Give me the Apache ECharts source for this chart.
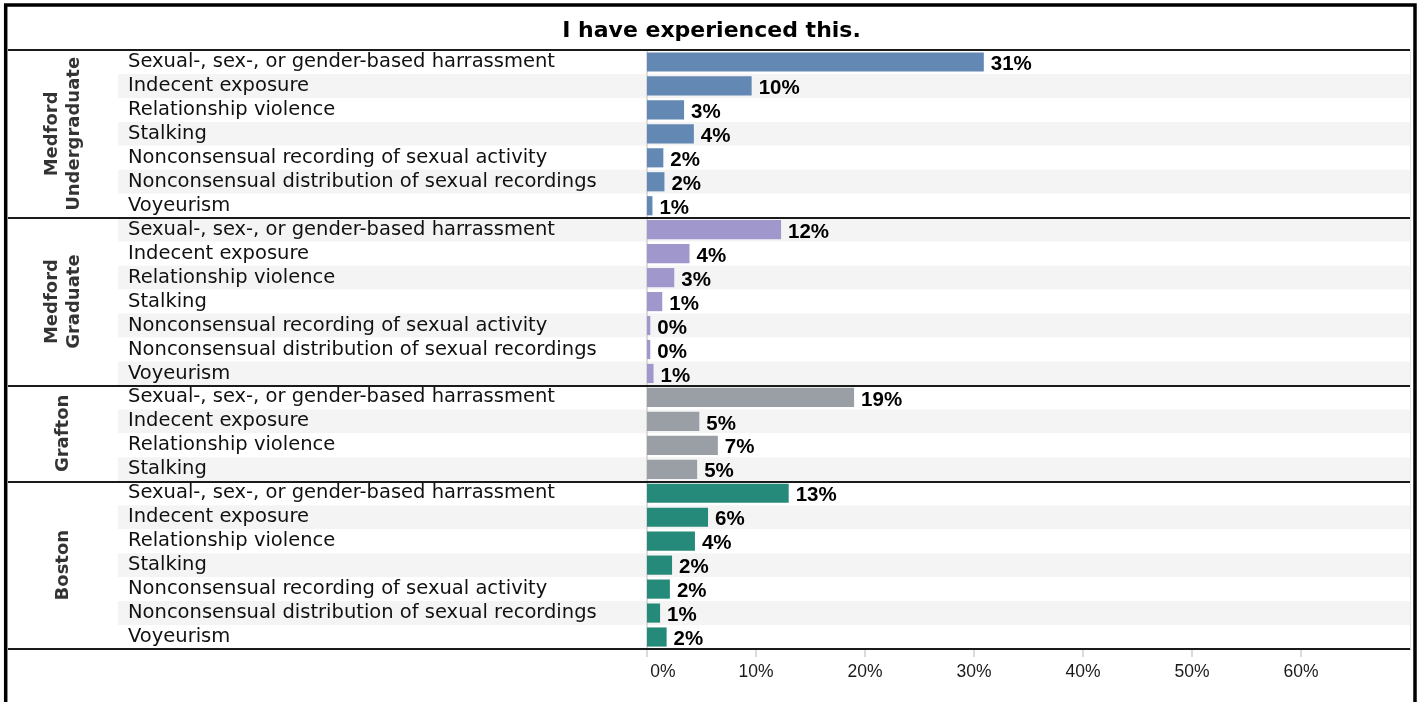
<!DOCTYPE html>
<html><head><meta charset="utf-8">
<script src="https://cdn.jsdelivr.net/npm/echarts@6/dist/echarts.min.js"></script>
<style>html,body{margin:0;padding:0;background:#fff}#chart{width:1423px;height:702px}</style>
</head><body><div id="chart"></div>
<script>
const chartTitle = 'I have experienced this.';
const groupNames = ['Medford\nUndergraduate', 'Medford\nGraduate', 'Grafton', 'Boston'];
const groupColors = ['#6388b4', '#a097cc', '#9a9ea5', '#268a7b'];

const medfordUgCategories = [
  'Sexual-, sex-, or gender-based harrassment', 'Indecent exposure', 'Relationship violence', 'Stalking',
  'Nonconsensual recording of sexual activity', 'Nonconsensual distribution of sexual recordings', 'Voyeurism'];
const medfordUgValues = [30.9, 9.6, 3.4, 4.3, 1.5, 1.6, 0.5];

const medfordGradCategories = [
  'Sexual-, sex-, or gender-based harrassment', 'Indecent exposure', 'Relationship violence', 'Stalking',
  'Nonconsensual recording of sexual activity', 'Nonconsensual distribution of sexual recordings', 'Voyeurism'];
const medfordGradValues = [12.3, 3.9, 2.5, 1.4, 0.3, 0.3, 0.6];

const graftonCategories = ['Sexual-, sex-, or gender-based harrassment', 'Indecent exposure', 'Relationship violence', 'Stalking'];
const graftonValues = [19.0, 4.8, 6.5, 4.6];

const bostonCategories = [
  'Sexual-, sex-, or gender-based harrassment', 'Indecent exposure', 'Relationship violence', 'Stalking',
  'Nonconsensual recording of sexual activity', 'Nonconsensual distribution of sexual recordings', 'Voyeurism'];
const bostonValues = [13.0, 5.6, 4.4, 2.3, 2.1, 1.2, 1.8];

const xTickValues = [0, 10, 20, 30, 40, 50, 60];
const xMax = 70;

const FONT = '"DejaVu Sans", sans-serif';
const LFONT = '"Liberation Sans", Arial, sans-serif';
const groups = [
  {cats: medfordUgCategories, vals: medfordUgValues},
  {cats: medfordGradCategories, vals: medfordGradValues},
  {cats: graftonCategories, vals: graftonValues},
  {cats: bostonCategories, vals: bostonValues}
];
const rowKeys = [], rowNames = [], barData = [], groupStarts = [], groupCenters = [];
let idx = 0;
groups.forEach((g, gi) => {
  groupStarts.push(idx);
  groupCenters.push([0.5, idx + g.cats.length / 2]);
  g.cats.forEach((c, i) => {
    rowKeys.push(gi + '|' + c);
    rowNames.push(c);
    barData.push({value: g.vals[i], itemStyle: {color: groupColors[gi]}});
    idx++;
  });
});

const TOP = 50, BOTTOM = 53, RIGHT = 13;
const chart = echarts.init(document.getElementById('chart'));
chart.setOption({
  animation: false,
  backgroundColor: '#ffffff',
  title: {text: chartTitle, left: 'center', top: 15,
    textStyle: {fontFamily: FONT, fontSize: 22, fontWeight: 'bold', color: '#000'}},
  grid: [
    {left: 8, right: RIGHT, top: TOP, bottom: BOTTOM},
    {left: 118, right: RIGHT, top: TOP, bottom: BOTTOM},
    {left: 647, right: RIGHT, top: TOP, bottom: BOTTOM},
    {left: 8, width: 110, top: TOP, bottom: BOTTOM}
  ],
  xAxis: [
    {gridIndex: 0, type: 'value', show: false, min: 0, max: 1},
    {gridIndex: 1, type: 'value', show: false, min: 0, max: 1},
    {gridIndex: 2, type: 'value', min: 0, max: xMax, interval: 10,
      axisLine: {show: true, lineStyle: {color: '#222', width: 1}},
      axisTick: {show: true, length: 8, customValues: xTickValues, lineStyle: {color: '#cfcfcf', width: 1.5}},
      axisLabel: {show: true, customValues: xTickValues, margin: 14, fontFamily: LFONT, fontSize: 17.5, color: '#1a1a1a',
        formatter: v => v === 0 ? '{first|0%}' : v + '%',
        rich: {first: {fontFamily: LFONT, fontSize: 17.5, color: '#1a1a1a', padding: [0, 0, 0, 32]}}},
      splitLine: {show: false}},
    {gridIndex: 3, type: 'value', show: false, min: 0, max: 1}
  ],
  yAxis: [
    {gridIndex: 0, type: 'category', data: rowKeys, inverse: true, z: 5,
      axisLine: {show: false}, axisTick: {show: false}, axisLabel: {show: false},
      splitLine: {show: true, interval: (i) => groupStarts.includes(i), lineStyle: {color: '#1a1a1a', width: 2}}},
    {gridIndex: 1, type: 'category', data: rowKeys, inverse: true,
      axisLine: {show: false}, axisTick: {show: false},
      axisLabel: {show: true, inside: true, margin: 10, interval: 0, fontFamily: FONT, fontSize: 19.5, color: '#111',
        padding: [0, 0, 2, 0], formatter: (v, i) => rowNames[i]},
      splitLine: {show: false},
      splitArea: {show: true, interval: 0, areaStyle: {color: ['#ffffff', '#f4f4f4']}}},
    {gridIndex: 2, type: 'category', data: rowKeys, inverse: true,
      axisLine: {show: true, lineStyle: {color: '#d0d0d0', width: 1.5}}, axisTick: {show: false}, axisLabel: {show: false}},
    {gridIndex: 2, type: 'category', data: rowKeys, inverse: true, position: 'right',
      axisLine: {show: true, lineStyle: {color: '#e6e6e6', width: 1}}, axisTick: {show: false}, axisLabel: {show: false}},
    {gridIndex: 3, type: 'value', min: 0, max: rowKeys.length, inverse: true, show: false}
  ],
  series: [
    {type: 'bar', xAxisIndex: 2, yAxisIndex: 2, data: barData, barWidth: '80%',
      label: {show: true, position: 'right', distance: 7, offset: [0, 2.5], fontFamily: LFONT, fontSize: 20.5,
        fontWeight: 'bold', color: '#000', formatter: p => Math.round(p.value) + '%'}},
    {type: 'scatter', xAxisIndex: 3, yAxisIndex: 4, data: groupCenters, symbolSize: 1,
      itemStyle: {color: 'transparent'},
      label: {show: true, position: 'inside', rotate: 90, fontFamily: FONT, fontSize: 18, fontWeight: 'bold',
        lineHeight: 22, color: '#000', formatter: p => groupNames[p.dataIndex]}}
  ],
  graphic: [
    {type: 'rect', silent: true, z: 100, shape: {x: 5.7, y: 5, width: 1409.3, height: 900},
      style: {fill: 'none', stroke: '#000', lineWidth: 3.5}}
  ]
});
</script></body></html>
